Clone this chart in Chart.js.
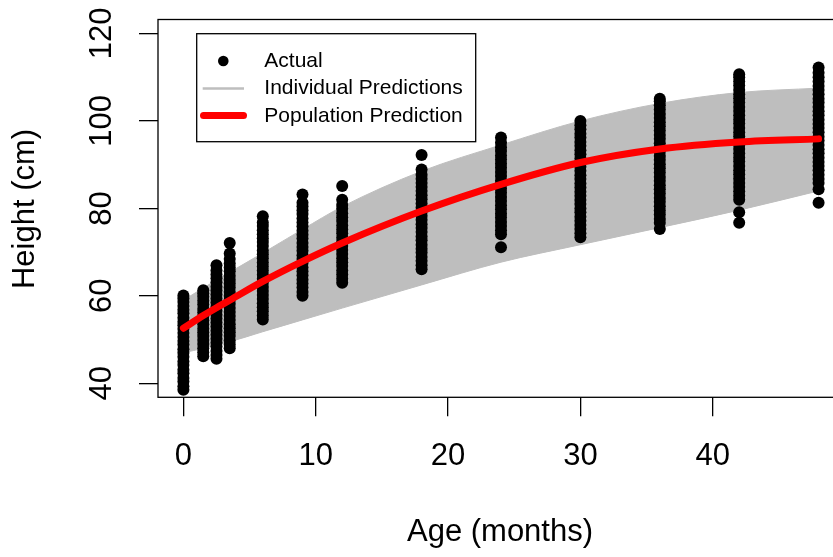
<!DOCTYPE html>
<html>
<head>
<meta charset="utf-8">
<title>Height by age</title>
<script src="https://cdn.jsdelivr.net/npm/chart.js@4"></script>
<style>
  html, body { margin: 0; padding: 0; background: #fff; overflow: hidden; }
  #wrap { width: 850px; height: 557px; }
</style>
</head>
<body>
<div id="wrap"><canvas id="myChart" width="850" height="557"></canvas></div>
<script>
// measurement ages (months)
const ages = [0, 1.5, 2.5, 3.5, 6, 9, 12, 18, 24, 30, 36, 42, 48];

const h0 = [38.5, 39.3, 40.4, 41.2, 42.3, 43.1, 44.2, 45.0, 46.1, 47.0, 47.8, 48.9, 49.7, 50.6, 51.5, 52.4, 53.3, 54.1, 55.0, 56.0, 56.8, 57.7, 58.6, 59.4, 60.1];
const h1_5 = [46.2, 47.1, 48.0, 49.0, 49.9, 50.8, 51.7, 52.5, 53.5, 54.4, 55.3, 56.2, 57.0, 58.0, 58.9, 59.8, 60.6, 61.3];
const h2_5 = [45.6, 46.5, 47.4, 48.4, 49.3, 50.2, 51.1, 52.0, 53.0, 53.9, 54.8, 55.7, 56.6, 57.5, 58.5, 59.4, 60.3, 61.2, 62.1, 63.1, 64.0, 64.9, 65.8, 67.0];
const h3_5 = [48.0, 48.9, 49.8, 50.8, 51.7, 52.6, 53.5, 54.5, 55.4, 56.3, 57.2, 58.2, 59.1, 60.0, 60.9, 61.9, 62.8, 63.7, 64.6, 65.6, 66.5, 67.4, 68.4, 69.7, 72.1];
const h6 = [54.6, 55.5, 56.5, 57.4, 58.3, 59.3, 60.2, 61.1, 62.0, 63.0, 63.9, 64.8, 65.8, 66.7, 67.6, 68.6, 69.5, 70.4, 71.4, 72.3, 73.2, 74.1, 75.0, 76.0, 76.8, 78.2];
const h9 = [60.0, 60.9, 61.9, 62.8, 63.7, 64.7, 65.6, 66.5, 67.5, 68.4, 69.3, 70.3, 71.2, 72.1, 73.1, 74.0, 74.9, 75.9, 76.8, 77.7, 78.7, 79.6, 80.5, 81.3, 83.2];
const h12 = [63.0, 63.9, 64.9, 65.8, 66.8, 67.7, 68.6, 69.6, 70.5, 71.4, 72.4, 73.3, 74.3, 75.2, 76.1, 77.1, 78.0, 78.9, 79.9, 80.8, 82.0, 85.1];
const h18 = [66.1, 67.0, 68.0, 68.9, 69.9, 70.8, 71.7, 72.7, 73.6, 74.6, 75.5, 76.4, 77.4, 78.3, 79.3, 80.2, 81.1, 82.1, 83.0, 84.0, 84.9, 85.8, 86.8, 87.7, 88.9, 92.2];
const h24 = [71.1, 74.1, 75.0, 76.0, 76.9, 77.9, 78.8, 79.8, 80.7, 81.7, 82.6, 83.6, 84.5, 85.5, 86.4, 87.4, 88.3, 89.3, 90.2, 91.2, 92.1, 93.1, 94.0, 95.0, 96.2];
const h30 = [73.4, 74.3, 75.3, 76.2, 77.2, 78.1, 79.1, 80.0, 81.0, 81.9, 82.9, 83.8, 84.8, 85.7, 86.7, 87.6, 88.6, 89.5, 90.5, 91.4, 92.4, 93.3, 94.3, 95.2, 96.2, 97.1, 98.1, 99.0, 100.0];
const h36 = [75.3, 76.7, 77.6, 78.6, 79.5, 80.5, 81.5, 82.4, 83.4, 84.4, 85.3, 86.3, 87.2, 88.2, 89.2, 90.1, 91.1, 92.0, 93.0, 94.0, 94.9, 95.9, 96.8, 97.8, 98.8, 99.7, 100.7, 101.6, 102.6, 103.6, 104.5, 105.1];
const h42 = [76.7, 79.1, 82.0, 82.9, 83.9, 84.9, 85.8, 86.8, 87.8, 88.7, 89.7, 90.7, 91.6, 92.6, 93.6, 94.5, 95.5, 96.5, 97.4, 98.4, 99.4, 100.3, 101.3, 102.3, 103.2, 104.2, 105.2, 106.1, 107.1, 108.1, 109.0, 110.0, 110.7];
const h48 = [81.3, 84.4, 85.8, 86.7, 87.7, 88.7, 89.7, 90.6, 91.6, 92.6, 93.5, 94.5, 95.5, 96.4, 97.4, 98.4, 99.3, 100.3, 101.3, 102.2, 103.2, 104.2, 105.1, 106.1, 107.1, 108.0, 109.0, 110.0, 111.0, 112.2];
const heights = [h0, h1_5, h2_5, h3_5, h6, h9, h12, h18, h24, h30, h36, h42, h48];

// individual predictions: upper and lower edge of the grey band
const indivUpper = [59.0, 61.8, 63.6, 65.4, 69.8, 75.2, 80.4, 88.5, 94.5, 100.0, 104.0, 106.5, 107.5];
const indivLower = [47.0, 48.0, 48.8, 49.5, 51.8, 54.5, 57.2, 62.5, 67.7, 71.7, 75.6, 79.6, 84.0];

// population prediction
const popPred = [52.6, 55.5, 57.3, 59.0, 63.3, 67.9, 72.1, 79.4, 85.5, 90.5, 93.6, 95.2, 95.9];

// axis ticks
const xTicks = [0, 10, 20, 30, 40];
const yTicks = [40, 60, 80, 100, 120];

const FONT = '"Liberation Sans", Arial, Helvetica, sans-serif';
const GREY = '#BEBEBE';

const actualPts = ages.flatMap((a, i) => heights[i].map(h => ({ x: a, y: h })));
const toPts = (vals) => ages.map((a, i) => ({ x: a, y: vals[i] }));

// draws the R-style box, tick labels, axis titles and legend
const baseGraphics = {
  id: 'baseGraphics',
  afterDraw(chart) {
    const { ctx, chartArea: a, scales: { x, y } } = chart;
    ctx.save();
    ctx.strokeStyle = '#000';
    ctx.lineWidth = 1.3;
    ctx.strokeRect(a.left, a.top, a.right - a.left, a.bottom - a.top);

    ctx.fillStyle = '#000';
    ctx.font = '31px ' + FONT;
    ctx.textAlign = 'center';
    ctx.textBaseline = 'middle';
    xTicks.forEach(v => ctx.fillText(String(v), x.getPixelForValue(v), 456));
    yTicks.forEach(v => {
      ctx.save();
      ctx.translate(102, y.getPixelForValue(v));
      ctx.rotate(-Math.PI / 2);
      ctx.fillText(String(v), 0, 0);
      ctx.restore();
    });
    ctx.fillText('Age (months)', 500, 532);
    ctx.save();
    ctx.translate(25, 209);
    ctx.rotate(-Math.PI / 2);
    ctx.fillText('Height (cm)', 0, 0);
    ctx.restore();

    // legend
    ctx.lineWidth = 1.3;
    ctx.strokeRect(196.7, 33.7, 279, 108);
    ctx.beginPath();
    ctx.arc(223.3, 61, 5.3, 0, Math.PI * 2);
    ctx.fill();
    ctx.lineCap = 'butt';
    ctx.strokeStyle = GREY;
    ctx.lineWidth = 2.5;
    ctx.beginPath(); ctx.moveTo(202.7, 88.5); ctx.lineTo(244, 88.5); ctx.stroke();
    ctx.lineCap = 'round';
    ctx.strokeStyle = '#FF0000';
    ctx.lineWidth = 7;
    ctx.beginPath(); ctx.moveTo(203.5, 115.5); ctx.lineTo(243.5, 115.5); ctx.stroke();
    ctx.font = '21px ' + FONT;
    ctx.textAlign = 'left';
    ctx.fillText('Actual', 264.3, 61.5);
    ctx.fillText('Individual Predictions', 264.3, 88.5);
    ctx.fillText('Population Prediction', 264.3, 115.8);
    ctx.restore();
  }
};

const ctx = document.getElementById('myChart').getContext('2d');
const chart = new Chart(ctx, {
  type: 'scatter',
  data: {
    datasets: [
      {
        label: 'Population Prediction',
        data: toPts(popPred),
        showLine: true,
        borderColor: '#FF0000',
        borderWidth: 7,
        borderCapStyle: 'round',
        borderJoinStyle: 'round',
        cubicInterpolationMode: 'monotone',
        pointRadius: 0,
        order: 1
      },
      {
        label: 'Actual',
        data: actualPts,
        backgroundColor: '#000',
        borderWidth: 0,
        pointRadius: 6,
        order: 2
      },
      {
        label: 'Individual Predictions',
        data: toPts(indivUpper),
        showLine: true,
        borderColor: GREY,
        backgroundColor: GREY,
        borderWidth: 1,
        cubicInterpolationMode: 'monotone',
        pointRadius: 0,
        fill: '+1',
        order: 3
      },
      {
        label: 'Individual Predictions (low)',
        data: toPts(indivLower),
        showLine: true,
        borderColor: GREY,
        borderWidth: 1,
        cubicInterpolationMode: 'monotone',
        pointRadius: 0,
        order: 4
      }
    ]
  },
  options: {
    responsive: false,
    animation: false,
    devicePixelRatio: 1,
    layout: { padding: { top: 19.5, right: 6, left: 0, bottom: 0 } },
    plugins: {
      legend: { display: false },
      tooltip: { enabled: false }
    },
    scales: {
      x: {
        type: 'linear',
        min: -1.92,
        max: 49.92,
        ticks: { display: false },
        afterBuildTicks: (s) => { s.ticks = xTicks.map(v => ({ value: v })); },
        afterFit: (s) => { s.height = 159.7; },
        grid: { drawOnChartArea: false, drawTicks: true, tickLength: 19, color: '#000', lineWidth: 1.3 },
        border: { display: false }
      },
      y: {
        type: 'linear',
        min: 36.8,
        max: 123.2,
        ticks: { display: false },
        afterBuildTicks: (s) => { s.ticks = yTicks.map(v => ({ value: v })); },
        afterFit: (s) => { s.width = 158; },
        grid: { drawOnChartArea: false, drawTicks: true, tickLength: 19, color: '#000', lineWidth: 1.3 },
        border: { display: false }
      }
    }
  },
  plugins: [baseGraphics]
});
</script>
</body>
</html>
